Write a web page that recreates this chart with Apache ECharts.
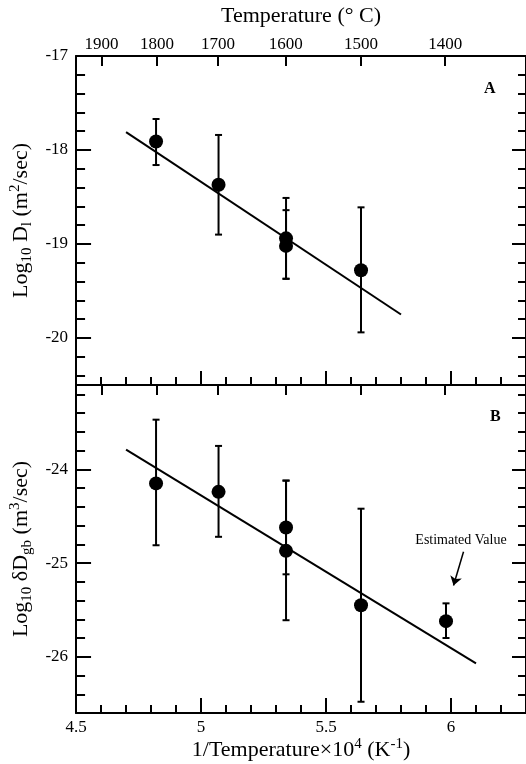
<!DOCTYPE html>
<html>
<head>
<meta charset="utf-8">
<script src="https://cdn.jsdelivr.net/npm/echarts@6/dist/echarts.min.js"></script>
<style>
  html, body { margin: 0; padding: 0; background: #fff; }
  #chart { width: 526px; height: 764px; }
</style>
</head>
<body>
<div id="chart"></div>
<script>
// tick labels
const tempTicks = [1900, 1800, 1700, 1600, 1500, 1400];
const xTicks = [4.5, 5, 5.5, 6];
const yTicksA = [-20, -19, -18, -17];
const yTicksB = [-26, -25, -24];

// panel A: Log10 D_l
const xA = [4.82, 5.07, 5.34, 5.34, 5.64];
const yA = [-17.91, -18.37, -18.94, -19.02, -19.28];
const loA = [-18.16, -18.90, -19.37, -19.37, -19.94];
const hiA = [-17.67, -17.84, -18.51, -18.64, -18.61];
const fitAx = [4.7, 5.8];
const fitAy = [-17.81, -19.75];

// panel B: Log10 dDgb
const xB = [4.82, 5.07, 5.34, 5.34, 5.64, 5.98];
const yB = [-24.15, -24.24, -24.62, -24.87, -25.45, -25.62];
const loB = [-24.81, -24.72, -25.12, -25.61, -26.48, -25.80];
const hiB = [-23.47, -23.75, -24.12, -24.12, -24.42, -25.43];
const fitBx = [4.7, 6.1];
const fitBy = [-23.79, -26.07];

const FONT = "Liberation Serif";

function steps(from, to, step) {
  let out = [];
  for (let v = from; v <= to + 1e-9; v += step) out.push(Math.round(v * 1000) / 1000);
  return out;
}
const tempVals = tempTicks.map(function (t) { return 1e4 / (t + 273.15); });
const xMinor = steps(4.5, 6.3, 0.1);
const yMinorA = steps(-20.4, -17, 0.2);
const yMinorB = steps(-26.6, -23.2, 0.2);

const line2 = { show: true, onZero: false, lineStyle: { color: "#000", width: 2 } };
const noLine = { show: false, onZero: false };

function xAx(grid, pos, ticks, len, opts) {
  return Object.assign({
    type: "value", gridIndex: grid, position: pos, min: 4.5, max: 6.3,
    axisLine: line2,
    axisTick: { show: true, inside: true, length: len, customValues: ticks, lineStyle: { color: "#000", width: 2 } },
    axisLabel: { show: false },
    splitLine: { show: false }
  }, opts || {});
}
function yAx(grid, pos, min, max, ticks, len, opts) {
  return Object.assign({
    type: "value", gridIndex: grid, position: pos, min: min, max: max,
    axisLine: line2,
    axisTick: { show: true, inside: true, length: len, customValues: ticks, lineStyle: { color: "#000", width: 2 } },
    axisLabel: { show: false },
    splitLine: { show: false }
  }, opts || {});
}

const richName = {
  sub: { fontFamily: FONT, fontSize: 15, color: "#000", padding: [11, 0, 0, 0] },
  sup: { fontFamily: FONT, fontSize: 15, color: "#000", padding: [0, 0, 12, 0] }
};
const nameStyle = { fontFamily: FONT, fontSize: 22, color: "#000", rich: richName };
const labelStyle = { show: true, fontFamily: FONT, fontSize: 17, color: "#000" };

function errorBars(xs, lo, hi, xi, yi) {
  return {
    type: "custom",
    xAxisIndex: xi, yAxisIndex: yi,
    data: xs.map(function (x, i) { return [x, lo[i], hi[i]]; }),
    encode: { x: 0, y: [1, 2] },
    z: 2,
    renderItem: function (params, api) {
      let x = api.value(0);
      let p1 = api.coord([x, api.value(1)]);
      let p2 = api.coord([x, api.value(2)]);
      let st = { stroke: "#000", lineWidth: 2 };
      return {
        type: "group",
        children: [
          { type: "line", shape: { x1: p1[0], y1: p1[1], x2: p2[0], y2: p2[1] }, style: st },
          { type: "line", shape: { x1: p1[0] - 3.5, y1: p1[1], x2: p1[0] + 3.5, y2: p1[1] }, style: st },
          { type: "line", shape: { x1: p2[0] - 3.5, y1: p2[1], x2: p2[0] + 3.5, y2: p2[1] }, style: st }
        ]
      };
    }
  };
}
function zip(a, b) { return a.map(function (v, i) { return [v, b[i]]; }); }

let myChart = echarts.init(document.getElementById("chart"));
let option = {
  animation: false,
  backgroundColor: "#fff",
  grid: [
    { left: 75, top: 56, width: 453, height: 329 },
    { left: 75, top: 385, width: 453, height: 328 }
  ],
  xAxis: [
    // panel A bottom
    xAx(0, "bottom", xTicks, 14),
    xAx(0, "bottom", xMinor, 8, { axisLine: noLine }),
    // panel A top: temperature
    xAx(0, "top", tempVals, 10, {
      axisLabel: Object.assign({}, labelStyle, {
        customValues: tempVals, margin: 3,
        formatter: function (v) { return Math.round(1e4 / v - 273.15); }
      }),
      name: "Temperature (° C)", nameLocation: "middle", nameGap: 29, nameTextStyle: nameStyle
    }),
    // panel B bottom
    xAx(1, "bottom", xTicks, 15, {
      axisLabel: Object.assign({}, labelStyle, { customValues: xTicks, margin: 6 }),
      name: "1/Temperature×10{sup|4} (K{sup|-1})", nameLocation: "middle", nameGap: 22, nameTextStyle: nameStyle
    }),
    xAx(1, "bottom", xMinor, 8, { axisLine: noLine }),
    // panel B top: temperature ticks
    xAx(1, "top", tempVals, 10)
  ],
  yAxis: [
    yAx(0, "left", -20.5, -17, yTicksA, 15, {
      axisLabel: Object.assign({}, labelStyle, { customValues: yTicksA, margin: 8 }),
      name: "Log{sub|10} D{sub|l} (m{sup|2}/sec)", nameLocation: "middle", nameRotate: 90, nameGap: 37, nameTextStyle: nameStyle
    }),
    yAx(0, "left", -20.5, -17, yMinorA, 9, { axisLine: noLine }),
    yAx(0, "right", -20.5, -17, yTicksA, 14),
    yAx(0, "right", -20.5, -17, yMinorA, 8, { axisLine: noLine }),
    yAx(1, "left", -26.6, -23.1, yTicksB, 15, {
      axisLabel: Object.assign({}, labelStyle, { customValues: yTicksB, margin: 8 }),
      name: "Log{sub|10} δD{sub|gb} (m{sup|3}/sec)", nameLocation: "middle", nameRotate: 90, nameGap: 37, nameTextStyle: nameStyle
    }),
    yAx(1, "left", -26.6, -23.1, yMinorB, 9, { axisLine: noLine }),
    yAx(1, "right", -26.6, -23.1, yTicksB, 14),
    yAx(1, "right", -26.6, -23.1, yMinorB, 8, { axisLine: noLine })
  ],
  series: [
    errorBars(xA, loA, hiA, 0, 0),
    {
      type: "line", xAxisIndex: 0, yAxisIndex: 0, data: zip(fitAx, fitAy),
      showSymbol: false, lineStyle: { color: "#000", width: 2 }, z: 3
    },
    {
      type: "scatter", xAxisIndex: 0, yAxisIndex: 0, data: zip(xA, yA),
      symbolSize: 14, itemStyle: { color: "#000", opacity: 1 }, z: 4
    },
    errorBars(xB, loB, hiB, 3, 4),
    {
      type: "line", xAxisIndex: 3, yAxisIndex: 4, data: zip(fitBx, fitBy),
      showSymbol: false, lineStyle: { color: "#000", width: 2 }, z: 3
    },
    {
      type: "scatter", xAxisIndex: 3, yAxisIndex: 4, data: zip(xB, yB),
      symbolSize: 14, itemStyle: { color: "#000", opacity: 1 }, z: 4,
      markPoint: {
        symbol: "circle", symbolSize: 0, silent: true,
        label: { show: true, formatter: "Estimated Value", fontFamily: FONT, fontSize: 14, color: "#000" },
        data: [{ coord: [6.04, -24.76] }]
      },
      markLine: {
        silent: true, symbol: ["none", "arrow"], symbolSize: 9,
        lineStyle: { color: "#000", width: 1.5, type: "solid", opacity: 1 },
        label: { show: false },
        data: [[{ coord: [6.05, -24.88] }, { coord: [6.01, -25.24] }]]
      }
    }
  ],
  graphic: [
    { type: "text", left: 484, top: 81, style: { text: "A", font: "bold 16px " + FONT, fill: "#000" } },
    { type: "text", left: 490, top: 409, style: { text: "B", font: "bold 16px " + FONT, fill: "#000" } }
  ]
};

if (option && typeof option === "object") myChart.setOption(option);
window.addEventListener("resize", function () {
  myChart.resize();
});
</script>
</body>
</html>
